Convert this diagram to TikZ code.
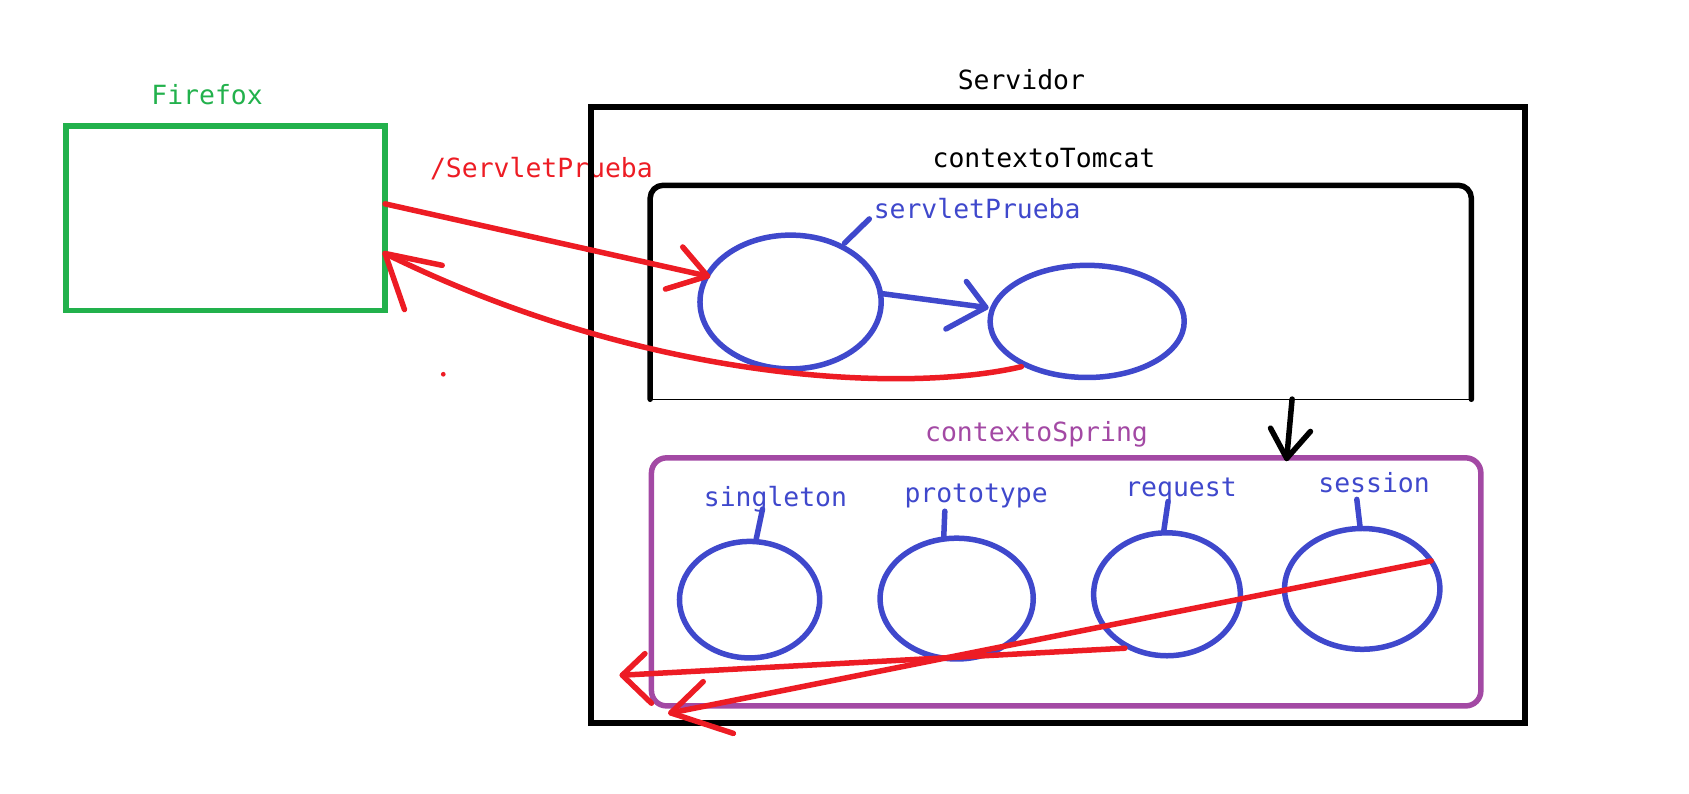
\documentclass[tikz,border=0pt]{standalone}
\usepackage{fontspec}
\newfontfamily\monofam{DejaVu Sans Mono}
\usetikzlibrary{shapes.geometric,calc}
\definecolor{pgreen}{RGB}{34,177,76}
\definecolor{pred}{RGB}{237,28,36}
\definecolor{pblue}{RGB}{63,72,204}
\definecolor{ppurple}{RGB}{163,73,164}
\begin{document}
\begin{tikzpicture}[x=1pt,y=-1pt,
  lbl/.style={font=\monofam\fontsize{24.5}{28}\selectfont, anchor=base, inner sep=0pt},
  pen/.style={line width=5.1pt, line cap=round, line join=round},
  oval/.style={ellipse, draw=pblue, pen, inner sep=0pt},
  box/.style={rectangle, inner sep=0pt}]
\useasboundingbox (0,0) rectangle (1566,736);

% labels
\node[lbl, text=pgreen] (lff) at (192,97) {Firefox};
\node[lbl, text=pred] (lurl) at (502,165) {/ServletPrueba};
\node[lbl] (lserv) at (947,83) {Servidor};
\node[lbl] (ltom) at (968,155) {contextoTomcat};
\node[lbl, text=pblue] (lsp) at (906,203) {servletPrueba};
\node[lbl, text=ppurple] (lspr) at (961,409) {contextoSpring};
\node[lbl, text=pblue] (lsg) at (719,470) {singleton};
\node[lbl, text=pblue] (lpr) at (905,466) {prototype};
\node[lbl, text=pblue] (lrq) at (1095,460) {request};
\node[lbl, text=pblue] (lss) at (1274,457) {session};

% boxes
\node[box, draw=pgreen, pen, line join=miter, minimum width=296pt, minimum height=171pt] (ff) at (209,202.5) {};
\node[box, draw=black, line width=5.5pt, minimum width=866pt, minimum height=571pt] (serv) at (981,384.5) {};
\node[box, minimum width=761pt, minimum height=198pt] (tom) at (983.5,271) {};
\draw[pen, draw=black, rounded corners=12pt] (tom.south west) |- (tom.north east) -- (tom.south east);
\draw[black, line width=1.3pt] (tom.south west) -- (tom.south east);
\node[box, draw=ppurple, pen, rounded corners=14pt, minimum width=769pt, minimum height=230pt] (spr) at (988.5,539.5) {};

% ellipses
\node[oval, minimum width=168pt, minimum height=124pt] (e1) at (733,280) {};
\node[oval, minimum width=180pt, minimum height=104pt] (e2) at (1008,298) {};
\node[oval, minimum width=130pt, minimum height=108pt] (sg) at (695,556) {};
\node[oval, minimum width=142pt, minimum height=112pt] (pr) at (887,555) {};
\node[oval, minimum width=136pt, minimum height=114pt] (rq) at (1082,551) {};
\node[oval, minimum width=144pt, minimum height=112pt] (ss) at (1263,546) {};

% leader lines
\coordinate (tsp) at (806,203);
\coordinate (tsg) at (707,472);
\coordinate (tpr) at (876,474);
\coordinate (trq) at (1083,465);
\coordinate (tss) at (1258,463);
\draw[pen, pblue] ($(e1.north)+(50,10)$) -- (tsp);
\draw[pen, pblue] ($(sg.north)+(6,1)$) -- (tsg);
\draw[pen, pblue] ($(pr.north)+(-12,2)$) -- (tpr);
\draw[pen, pblue] ($(rq.north)+(-3,1)$) -- (trq);
\draw[pen, pblue] ($(ss.north)+(-2,1)$) -- (tss);

% red request arrow
\coordinate (ffout) at (357,189);
\coordinate (tip1) at (656,256);
\coordinate (b1a) at (633,229);
\coordinate (b1b) at (617,268);
\draw[pen, pred] (ffout) -- (tip1);
\draw[pen, pred] (b1a) -- (tip1) -- (b1b);

% blue arrow between servlets
\coordinate (bs) at (816,272);
\coordinate (btip) at (914,285);
\coordinate (bba) at (896,261);
\coordinate (bbb) at (877,305);
\draw[pen, pblue] (bs) -- (btip);
\draw[pen, pblue] (bba) -- (btip) -- (bbb);

% red return curve
\coordinate (rs) at (947,340);
\coordinate (rtip) at (357,235);
\coordinate (rba) at (410,246);
\coordinate (rbb) at (375,287);
\draw[pen, pred] (rs) .. controls (840,365) and (600,355) .. (rtip);
\draw[pen, pred] (rba) -- (rtip) -- (rbb);

% stray dot
\fill[pred] (411,347) circle (2.2pt);

% black arrow
\coordinate (ks) at (1198,370);
\coordinate (ktip) at (1193,425);
\coordinate (kba) at (1178,397);
\coordinate (kbb) at (1215,400);
\draw[pen, black] (ks) -- (ktip);
\draw[pen, black] (kba) -- (ktip) -- (kbb);

% red arrows at bottom
\coordinate (as) at (1043,601);
\coordinate (atip) at (577,626);
\coordinate (aba) at (598,606);
\coordinate (abb) at (604,652);
\draw[pen, pred] (as) -- (atip);
\draw[pen, pred] (aba) -- (atip) -- (abb);
\coordinate (cs) at (1327,520);
\coordinate (ctip) at (622,661);
\coordinate (cba) at (652,632);
\coordinate (cbb) at (680,680);
\draw[pen, pred] (cs) -- (ctip);
\draw[pen, pred] (cba) -- (ctip) -- (cbb);
\end{tikzpicture}
\end{document}
